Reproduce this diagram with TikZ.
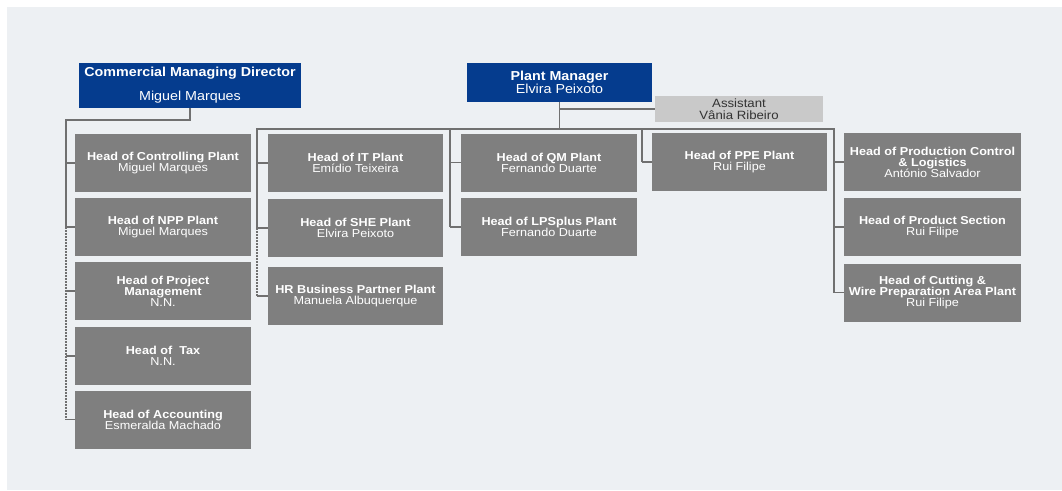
\documentclass[tikz,border=0pt]{standalone}
\usepackage{fontspec}
\setmainfont{Liberation Sans}[FakeStretch=1.1]
\usepackage{tikz}
\usetikzlibrary{positioning,calc}
\definecolor{navy}{HTML}{053C8E}
\definecolor{boxgrey}{HTML}{7F7F7F}
\definecolor{asstgrey}{HTML}{C9C9C9}
\definecolor{linegrey}{HTML}{707070}
\definecolor{panel}{HTML}{EDF0F3}

\begin{document}
\begin{tikzpicture}[x=1pt,y=-1pt,
  headbox/.style={fill=boxgrey,text=white,align=center,minimum width=176pt,minimum height=58pt,inner sep=0pt,font=\fontsize{11.5}{11}\selectfont},
  topbox/.style={fill=navy,text=white,align=center,inner sep=0pt,font=\fontsize{13}{13}\selectfont},
  asstbox/.style={fill=asstgrey,text=black!80,align=center,minimum width=168pt,minimum height=26pt,inner sep=0pt,font=\fontsize{12}{12.5}\selectfont},
  link/.style={draw=linegrey,line width=1.2pt},
  dotlink/.style={link,dash pattern=on 1.6pt off 1.4pt}]
  \useasboundingbox (0,0) rectangle (1062,490);
  \fill[panel] (7,7) rectangle (1062,490);
  % managers
  \node[topbox,minimum width=222pt,minimum height=45pt] (cmd) at (190,85.5) {\textbf{Commercial Managing Director}\\[11pt]Miguel Marques};
  \node[topbox,minimum width=185pt,minimum height=39pt] (pm) at (559.5,82.5) {\textbf{Plant Manager}\\Elvira Peixoto};
  \node[asstbox] (asst) at (739,109) {Assistant\\Vânia Ribeiro};
  % left column
  \node[headbox] (ctrl) at (163,163) {\textbf{Head of Controlling Plant}\\Miguel Marques};
  \node[headbox] (npp) at (163,227) {\textbf{Head of NPP Plant}\\Miguel Marques};
  \node[headbox] (proj) at (163,291) {\textbf{Head of Project}\\\textbf{Management}\\N.N.};
  \node[headbox] (tax) at (163,356) {\textbf{Head of\ \ Tax}\\N.N.};
  \node[headbox] (acc) at (163,419.5) {\textbf{Head of Accounting}\\Esmeralda Machado};
  % second column
  \node[headbox,minimum width=175pt] (it) at (355.5,163) {\textbf{Head of IT Plant}\\Emídio Teixeira};
  \node[headbox,minimum width=175pt] (she) at (355.5,228) {\textbf{Head of SHE Plant}\\Elvira Peixoto};
  \node[headbox,minimum width=175pt] (hr) at (355.5,296) {\textbf{HR Business Partner Plant}\\Manuela Albuquerque};
  % third and fourth column
  \node[headbox] (qm) at (549,162.5) {\textbf{Head of QM Plant}\\Fernando Duarte};
  \node[headbox] (lps) at (549,227) {\textbf{Head of LPSplus Plant}\\Fernando Duarte};
  \node[headbox,minimum width=175pt] (ppe) at (739.5,162) {\textbf{Head of PPE Plant}\\Rui Filipe};
  % right column
  \node[headbox,minimum width=177pt] (pcl) at (932.5,162) {\textbf{Head of Production Control}\\\textbf{\& Logistics}\\António Salvador};
  \node[headbox,minimum width=177pt] (prs) at (932.5,227) {\textbf{Head of Product Section}\\Rui Filipe};
  \node[headbox,minimum width=177pt] (cut) at (932.5,292.5) {\textbf{Head of Cutting \&}\\\textbf{Wire Preparation Area Plant}\\Rui Filipe};
  % rails
  \coordinate (lrail) at (66,120);
  \coordinate (bus) at (257,129);
  \coordinate (r3) at (450,129);
  \coordinate (r4) at (642,129);
  \coordinate (busend) at (834,129);
  % commercial branch
  \draw[link] (cmd.south) |- (lrail) -- (lrail |- npp.west);
  \draw[dotlink] (lrail |- npp.west) -- (lrail |- acc.west);
  \foreach \n in {ctrl,npp,proj,tax,acc} \draw[link] (lrail |- \n.west) -- (\n.west);
  % plant branch
  \draw[link] (pm.south) -- (pm.south |- bus);
  \draw[link] (pm.south |- asst.west) -- (asst.west);
  \draw[link] (bus |- she.west) -- (bus) -- (busend) -- (busend |- cut.west);
  \draw[dotlink] (bus |- she.west) -- (bus |- hr.west);
  \draw[link] (r3) -- (r3 |- lps.west);
  \draw[link] (r4) -- (r4 |- ppe.west);
  \foreach \n in {it,she,hr} \draw[link] (bus |- \n.west) -- (\n.west);
  \foreach \n in {qm,lps} \draw[link] (r3 |- \n.west) -- (\n.west);
  \draw[link] (r4 |- ppe.west) -- (ppe.west);
  \foreach \n in {pcl,prs,cut} \draw[link] (busend |- \n.west) -- (\n.west);
\end{tikzpicture}
\end{document}
